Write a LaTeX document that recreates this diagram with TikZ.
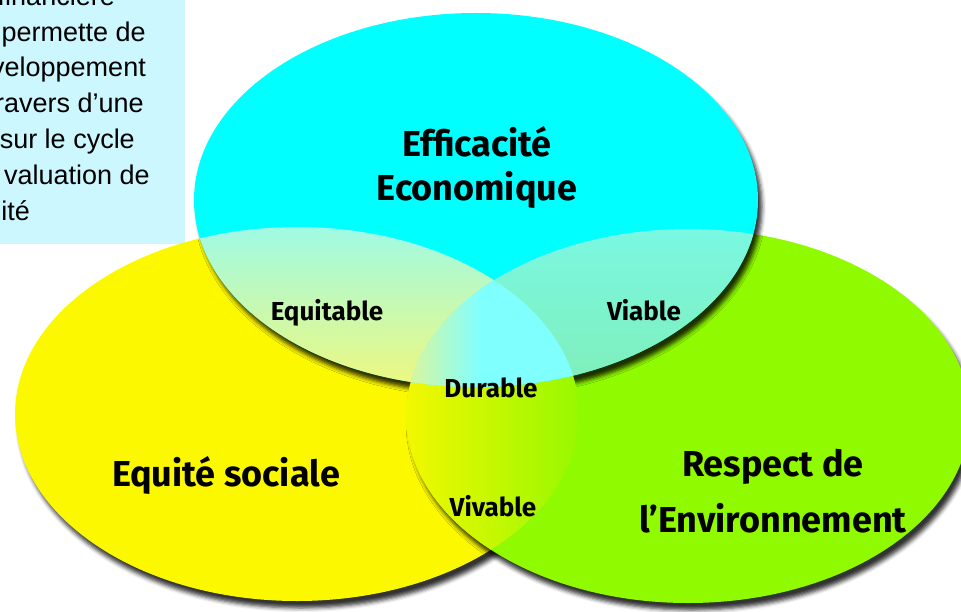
\documentclass[tikz,border=0pt]{standalone}
\usepackage{fontspec}
\setmainfont{Liberation Sans}
\newfontfamily\vennfont{Fira Sans}
\usetikzlibrary{shadows.blur}

\definecolor{eco-cyan}{RGB}{0,255,255}
\definecolor{soc-yellow}{RGB}{252,248,0}
\definecolor{env-green}{RGB}{143,250,0}
\definecolor{note-blue}{RGB}{204,247,255}
\definecolor{equi-top}{RGB}{160,250,228}
\definecolor{equi-bottom}{RGB}{240,248,125}
\definecolor{via-top}{RGB}{122,248,226}
\definecolor{via-bottom}{RGB}{128,238,185}
\definecolor{dur-left}{RGB}{225,245,150}
\definecolor{dur-right}{RGB}{128,255,255}
\definecolor{viv-left}{RGB}{242,248,0}
\definecolor{viv-right}{RGB}{152,248,0}

\begin{document}
\begin{tikzpicture}
        [x=1pt,y=-1pt,
        every node/.style={inner sep=0pt},
        eco-shape/.style={insert path={(476,200) ellipse [x radius=282, y radius=187]}},
        soc-shape/.style={insert path={(297,414) ellipse [x radius=282, y radius=187]}},
        env-shape/.style={insert path={(688,416) ellipse [x radius=282, y radius=187]}},
        venn-shadow/.style={blur shadow={shadow xshift=4pt,shadow yshift=-7pt,shadow blur radius=4pt,shadow opacity=80}},
        big-label/.style={font=\vennfont\bfseries\fontsize{36}{44}\selectfont,align=center,anchor=base},
        lens-label/.style={font=\vennfont\bfseries\fontsize{26}{30}\selectfont,anchor=base},
        note-line/.style={font=\fontsize{27}{36}\selectfont,anchor=base east}
        ]
        \useasboundingbox (0,0) rectangle (961,612);
        \clip (0,0) rectangle (961,612);
        % note box, cut by the page
        \fill[note-blue] (-10,-10) rectangle (185,244);
        \node[note-line] (note-1) at (115,6) {financière};
        \node[note-line] (note-2) at (146,42) {permette de};
        \node[note-line] (note-3) at (146,77) {veloppement};
        \node[note-line] (note-4) at (144,113) {ravers d’une};
        \node[note-line] (note-5) at (135,149) {sur le cycle};
        \node[note-line] (note-6) at (150,185) {valuation de};
        \node[note-line] (note-7) at (30,221) {ité};
        % the three circles
        \fill[soc-yellow,soc-shape,venn-shadow];
        \fill[env-green,env-shape,venn-shadow];
        \path[eco-shape,venn-shadow];
        \begin{scope}
            \clip[soc-shape];
            \clip[env-shape];
            \shade[left color=viv-left,right color=viv-right] (406,228) rectangle (578,604);
        \end{scope}
        \fill[eco-cyan,eco-shape];
        \begin{scope}
            \clip[soc-shape];
            \clip[eco-shape];
            \shade[top color=equi-top,bottom color=equi-bottom] (194,227) rectangle (500,390);
        \end{scope}
        \begin{scope}
            \clip[env-shape];
            \clip[eco-shape];
            \shade[top color=via-top,bottom color=via-bottom] (480,227) rectangle (760,390);
        \end{scope}
        \begin{scope}
            \clip[soc-shape];
            \clip[env-shape];
            \clip[eco-shape];
            \fill[dur-right] (400,270) rectangle (580,390);
            \shade[left color=dur-left,right color=dur-right] (404,270) rectangle (480,390);
        \end{scope}
        % labels
        \node[big-label] (eco) at (477,201) {Efficacité\\Economique};
        \node[big-label] (soc) at (226,486) {Equité sociale};
        \node[big-label,font=\vennfont\bfseries\fontsize{36}{56}\selectfont] (env) at (773,532) {Respect de\\l’Environnement};
        \node[lens-label] (equitable) at (327,320) {Equitable};
        \node[lens-label] (viable) at (644,320) {Viable};
        \node[lens-label] (durable) at (491,397) {Durable};
        \node[lens-label] (vivable) at (493,516) {Vivable};
    \end{tikzpicture}
\end{document}
